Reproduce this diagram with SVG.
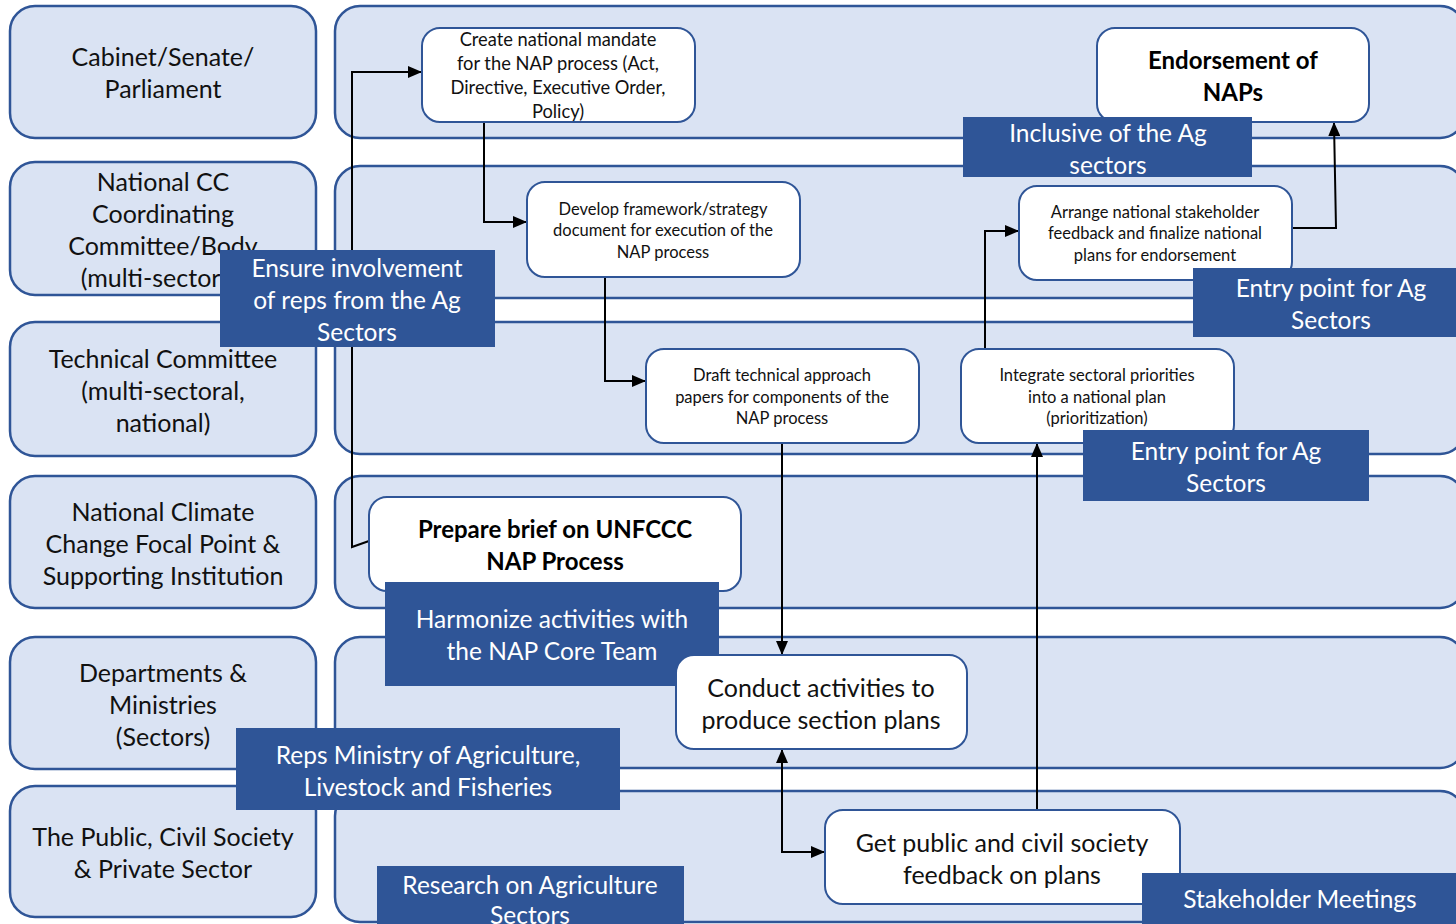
<svg xmlns="http://www.w3.org/2000/svg" width="1456" height="924" viewBox="0 0 1456 924">
<defs>
<style>
.lane{fill:#dae3f3;stroke:#2f5597;stroke-width:2.5}
.node{fill:#ffffff;stroke:#2f5597;stroke-width:2}
.lab{fill:#2f5597}
text{font-family:Lato,"Open Sans",sans-serif;text-anchor:middle}
.t22{font-size:25px;fill:#111}
.tb{font-size:24px;font-weight:bold;fill:#000}
.t16{font-size:18.3px;fill:#111}
.t14{font-size:16.5px;fill:#111}
.w{font-size:24.5px;fill:#ffffff}
.c{fill:none;stroke:#000;stroke-width:2}
</style>
<marker id="ah" markerUnits="userSpaceOnUse" markerWidth="14" markerHeight="12" refX="13" refY="6" orient="auto">
<path d="M0,0 L14,6 L0,12 Z" fill="#000"/>
</marker>
<marker id="as" markerUnits="userSpaceOnUse" markerWidth="14" markerHeight="12" refX="1" refY="6" orient="auto">
<path d="M14,0 L0,6 L14,12 Z" fill="#000"/>
</marker>
</defs>
<rect width="1456" height="924" fill="#ffffff"/>

<g id="lanes">
<rect class="lane" x="335" y="6" width="1130" height="132" rx="25"/>
<rect class="lane" x="335" y="166" width="1130" height="132" rx="25"/>
<rect class="lane" x="335" y="322" width="1130" height="132" rx="25"/>
<rect class="lane" x="335" y="476" width="1130" height="132" rx="25"/>
<rect class="lane" x="335" y="637" width="1130" height="131" rx="25"/>
<rect class="lane" x="335" y="791" width="1130" height="131" rx="25"/>
</g>

<g id="role-cabinet">
<rect class="lane" x="10" y="6" width="306" height="132" rx="25"/>
<text class="t22" x="163" y="66">Cabinet/Senate/</text>
<text class="t22" x="163" y="98">Parliament</text>
</g>
<g id="role-nccc">
<rect class="lane" x="10" y="162" width="306" height="133" rx="25"/>
<text class="t22" x="163" y="191">National CC</text>
<text class="t22" x="163" y="223">Coordinating</text>
<text class="t22" x="163" y="255">Committee/Body</text>
<text class="t22" x="163" y="287">(multi-sectoral)</text>
</g>
<g id="role-tech">
<rect class="lane" x="10" y="322" width="306" height="134" rx="25"/>
<text class="t22" x="163" y="368">Technical Committee</text>
<text class="t22" x="163" y="400">(multi-sectoral,</text>
<text class="t22" x="163" y="432">national)</text>
</g>
<g id="role-focal">
<rect class="lane" x="10" y="476" width="306" height="132" rx="25"/>
<text class="t22" x="163" y="521">National Climate</text>
<text class="t22" x="163" y="553">Change Focal Point &amp;</text>
<text class="t22" x="163" y="585">Supporting Institution</text>
</g>
<g id="role-depts">
<rect class="lane" x="10" y="637" width="306" height="132" rx="25"/>
<text class="t22" x="163" y="682">Departments &amp;</text>
<text class="t22" x="163" y="714">Ministries</text>
<text class="t22" x="163" y="746">(Sectors)</text>
</g>
<g id="role-public">
<rect class="lane" x="10" y="786" width="306" height="131" rx="25"/>
<text class="t22" x="163" y="846">The Public, Civil Society</text>
<text class="t22" x="163" y="878">&amp; Private Sector</text>
</g>

<g id="connectors">
<polyline class="c" points="369,541 352,547 352,72 421,72" marker-end="url(#ah)"/>
<polyline class="c" points="484,122 484,222 526,222" marker-end="url(#ah)"/>
<polyline class="c" points="605,277 605,381 645,381" marker-end="url(#ah)"/>
<polyline class="c" points="782,443 782,654" marker-end="url(#ah)"/>
<polyline class="c" points="782,750 782,852 824,852" marker-start="url(#as)" marker-end="url(#ah)"/>
<polyline class="c" points="1037,810 1037,444" marker-end="url(#ah)"/>
<polyline class="c" points="985,349 985,231 1018,231" marker-end="url(#ah)"/>
<polyline class="c" points="1292,228 1336,228 1334,123" marker-end="url(#ah)"/>
</g>

<g id="node-mandate">
<rect class="node" x="422" y="28" width="273" height="94" rx="18"/>
<text class="t16" x="558" y="46">Create national mandate</text>
<text class="t16" x="558" y="70">for the NAP process (Act,</text>
<text class="t16" x="558" y="94">Directive, Executive Order,</text>
<text class="t16" x="558" y="118">Policy)</text>
</g>
<g id="node-endorse">
<rect class="node" x="1097" y="28" width="272" height="94" rx="18"/>
<text class="tb" x="1233" y="69">Endorsement of</text>
<text class="tb" x="1233" y="101">NAPs</text>
</g>
<g id="node-framework">
<rect class="node" x="527" y="182" width="273" height="95" rx="18"/>
<text class="t14" x="663" y="215">Develop framework/strategy</text>
<text class="t14" x="663" y="236">document for execution of the</text>
<text class="t14" x="663" y="258">NAP process</text>
</g>
<g id="node-arrange">
<rect class="node" x="1019" y="186" width="273" height="94" rx="18"/>
<text class="t14" x="1155" y="218">Arrange national stakeholder</text>
<text class="t14" x="1155" y="239">feedback and finalize national</text>
<text class="t14" x="1155" y="261">plans for endorsement</text>
</g>
<g id="node-draft">
<rect class="node" x="646" y="349" width="273" height="94" rx="18"/>
<text class="t14" x="782" y="381">Draft technical approach</text>
<text class="t14" x="782" y="403">papers for components of the</text>
<text class="t14" x="782" y="424">NAP process</text>
</g>
<g id="node-integrate">
<rect class="node" x="961" y="349" width="273" height="94" rx="18"/>
<text class="t14" x="1097" y="381">Integrate sectoral priorities</text>
<text class="t14" x="1097" y="403">into a national plan</text>
<text class="t14" x="1097" y="424">(prioritization)</text>
</g>
<g id="node-brief">
<rect class="node" x="369" y="497" width="372" height="94" rx="18"/>
<text class="tb" x="555" y="538">Prepare brief on UNFCCC</text>
<text class="tb" x="555" y="570">NAP Process</text>
</g>

<g id="label-ensure">
<rect class="lab" x="220" y="250" width="275" height="97"/>
<text class="w" x="357" y="277">Ensure involvement</text>
<text class="w" x="357" y="309">of reps from the Ag</text>
<text class="w" x="357" y="341">Sectors</text>
</g>
<g id="label-inclusive">
<rect class="lab" x="963" y="117" width="289" height="60"/>
<text class="w" x="1108" y="142">Inclusive of the Ag</text>
<text class="w" x="1108" y="174">sectors</text>
</g>
<g id="label-entry1">
<rect class="lab" x="1193" y="268" width="263" height="69"/>
<text class="w" x="1331" y="297">Entry point for Ag</text>
<text class="w" x="1331" y="329">Sectors</text>
</g>
<g id="label-entry2">
<rect class="lab" x="1083" y="430" width="286" height="71"/>
<text class="w" x="1226" y="460">Entry point for Ag</text>
<text class="w" x="1226" y="492">Sectors</text>
</g>
<g id="label-harmonize">
<rect class="lab" x="385" y="582" width="334" height="104"/>
<text class="w" x="552" y="628">Harmonize activities with</text>
<text class="w" x="552" y="660">the NAP Core Team</text>
</g>

<g id="node-conduct">
<rect class="node" x="676" y="655" width="291" height="94" rx="18"/>
<text class="t22" x="821" y="697">Conduct activities to</text>
<text class="t22" x="821" y="729">produce section plans</text>
</g>
<g id="node-public">
<rect class="node" x="825" y="810" width="355" height="94" rx="18"/>
<text class="t22" x="1002" y="852">Get public and civil society</text>
<text class="t22" x="1002" y="884">feedback on plans</text>
</g>

<g id="label-reps">
<rect class="lab" x="236" y="728" width="384" height="82"/>
<text class="w" x="428" y="764">Reps Ministry of Agriculture,</text>
<text class="w" x="428" y="796">Livestock and Fisheries</text>
</g>
<g id="label-research">
<rect class="lab" x="377" y="866" width="307" height="60"/>
<text class="w" x="530" y="894">Research on Agriculture</text>
<text class="w" x="530" y="924">Sectors</text>
</g>
<g id="label-stakeholder">
<rect class="lab" x="1142" y="873" width="314" height="53"/>
<text class="w" x="1300" y="908">Stakeholder Meetings</text>
</g>
</svg>
